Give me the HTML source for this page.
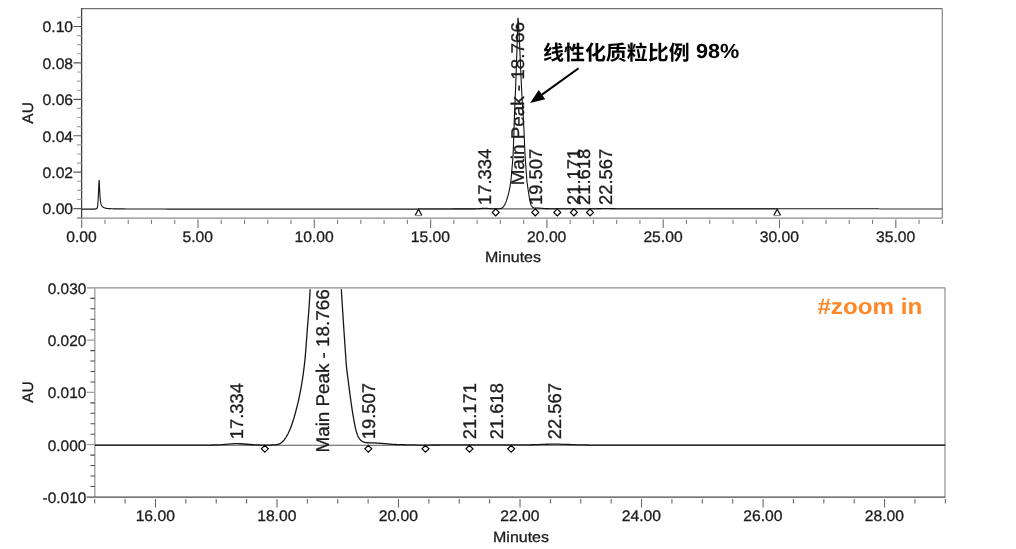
<!DOCTYPE html>
<html lang="zh"><head><meta charset="utf-8"><title>Chromatogram</title>
<style>
html,body{margin:0;padding:0;background:#fff;overflow:hidden}
body{width:1016px;height:549px;font-family:"Liberation Sans",sans-serif}
svg{display:block;will-change:transform}
text{font-family:"Liberation Sans",sans-serif;text-rendering:geometricPrecision}
</style></head><body>
<svg width="1016" height="549" viewBox="0 0 1016 549">
<rect width="1016" height="549" fill="#fff"/>
<path d="M81.6 8.6H942.4" fill="none" stroke="#707070" stroke-width="1.05"/>
<path d="M942.3 8.6V218.0" fill="none" stroke="#8c8c8c" stroke-width="1.25"/>
<path d="M77.2 218.1H942.4" fill="none" stroke="#8a8a8a" stroke-width="1.15"/>
<path d="M81.6 8.1V218.5" fill="none" stroke="#404040" stroke-width="1.3"/>
<path d="M73.4 208.6H81.6M73.4 172.17H81.6M73.4 135.74H81.6M73.4 99.31H81.6M73.4 62.88H81.6M73.4 26.45H81.6" stroke="#5a5a5a" stroke-width="1.15" fill="none"/>
<path d="M77 217.71H81.6M77 199.49H81.6M77 190.38H81.6M77 181.28H81.6M77 163.06H81.6M77 153.95H81.6M77 144.85H81.6M77 126.63H81.6M77 117.52H81.6M77 108.42H81.6M77 90.2H81.6M77 81.09H81.6M77 71.99H81.6M77 53.77H81.6M77 44.66H81.6M77 35.56H81.6M77 17.34H81.6" stroke="#a2a2a2" stroke-width="1.15" fill="none"/>
<path d="M81.7 219.6V227.9M198 219.6V227.9M314.3 219.6V227.9M430.6 219.6V227.9M546.9 219.6V227.9M663.2 219.6V227.9M779.5 219.6V227.9M895.8 219.6V227.9" stroke="#6e6e6e" stroke-width="1.1" fill="none"/>
<path d="M104.96 219.8V224.1M128.22 219.8V224.1M151.48 219.8V224.1M174.74 219.8V224.1M221.26 219.8V224.1M244.52 219.8V224.1M267.78 219.8V224.1M291.04 219.8V224.1M337.56 219.8V224.1M360.82 219.8V224.1M384.08 219.8V224.1M407.34 219.8V224.1M453.86 219.8V224.1M477.12 219.8V224.1M500.38 219.8V224.1M523.64 219.8V224.1M570.16 219.8V224.1M593.42 219.8V224.1M616.68 219.8V224.1M639.94 219.8V224.1M686.46 219.8V224.1M709.72 219.8V224.1M732.98 219.8V224.1M756.24 219.8V224.1M802.76 219.8V224.1M826.02 219.8V224.1M849.28 219.8V224.1M872.54 219.8V224.1M919.06 219.8V224.1M942.32 219.8V224.1" stroke="#7c7c7c" stroke-width="1.05" fill="none"/>
<g font-family='"Liberation Sans", sans-serif' font-size="15.3" fill="#1c1c1c" stroke="#1c1c1c" stroke-width="0.3">
<text transform="translate(73.1 214.45) scale(1.026 1)" text-anchor="end">0.00</text>
<text transform="translate(73.1 178.02) scale(1.026 1)" text-anchor="end">0.02</text>
<text transform="translate(73.1 141.59) scale(1.026 1)" text-anchor="end">0.04</text>
<text transform="translate(73.1 105.16) scale(1.026 1)" text-anchor="end">0.06</text>
<text transform="translate(73.1 68.73) scale(1.026 1)" text-anchor="end">0.08</text>
<text transform="translate(73.1 32.3) scale(1.026 1)" text-anchor="end">0.10</text>
<text transform="translate(81.5 241.6) scale(1.025 1)" text-anchor="middle">0.00</text>
<text transform="translate(197.8 241.6) scale(1.025 1)" text-anchor="middle">5.00</text>
<text transform="translate(314.1 241.6) scale(1.025 1)" text-anchor="middle">10.00</text>
<text transform="translate(430.4 241.6) scale(1.025 1)" text-anchor="middle">15.00</text>
<text transform="translate(546.7 241.6) scale(1.025 1)" text-anchor="middle">20.00</text>
<text transform="translate(663 241.6) scale(1.025 1)" text-anchor="middle">25.00</text>
<text transform="translate(779.3 241.6) scale(1.025 1)" text-anchor="middle">30.00</text>
<text transform="translate(895.6 241.6) scale(1.025 1)" text-anchor="middle">35.00</text>
<text transform="translate(513 262.35) scale(1.08 1)" text-anchor="middle" font-size="14.8">Minutes</text>
<text transform="translate(32.5 112.9) rotate(-90) scale(1.01 1)" text-anchor="middle">AU</text>
</g>
<path d="M418.5 208.9H777.17" stroke="#333" stroke-width="1" fill="none"/>
<path d="M81.7 209.1 L82.86 209.1 L84.03 209.1 L85.19 209.1 L86.35 209.1 L87.52 209.1 L88.68 209.1 L89.84 209.1 L91 209.1 L92.17 209.1 L93.33 209.1 L94.49 209.07 L95.66 208.93 L95.75 208.91 L95.84 208.89 L95.94 208.86 L96.03 208.84 L96.12 208.81 L96.21 208.78 L96.31 208.75 L96.4 208.71 L96.49 208.67 L96.59 208.62 L96.68 208.57 L96.77 208.5 L96.87 208.42 L96.96 208.32 L97.05 208.2 L97.14 208.03 L97.24 207.82 L97.33 207.55 L97.42 207.19 L97.52 206.74 L97.61 206.17 L97.7 205.46 L97.8 204.59 L97.89 203.53 L97.98 202.29 L98.08 200.84 L98.17 199.19 L98.26 197.35 L98.35 195.36 L98.45 193.25 L98.54 191.08 L98.63 188.91 L98.73 186.82 L98.82 184.89 L98.91 183.21 L99.01 181.83 L99.1 180.84 L99.19 180.27 L99.28 180.55 L99.38 183.53 L99.47 186.16 L99.56 188.48 L99.66 190.53 L99.75 192.34 L99.84 193.94 L99.94 195.35 L100.03 196.6 L100.12 197.71 L100.21 198.69 L100.31 199.56 L100.4 200.34 L100.49 201.03 L100.59 201.65 L100.68 202.2 L100.77 202.7 L100.87 203.14 L100.96 203.54 L101.05 203.9 L101.15 204.22 L101.24 204.51 L101.33 204.78 L101.42 205.02 L101.52 205.24 L101.61 205.44 L101.7 205.62 L101.8 205.79 L101.89 205.94 L101.98 206.08 L102.08 206.21 L102.17 206.34 L102.26 206.45 L102.35 206.55 L102.45 206.65 L102.54 206.74 L102.63 206.83 L102.73 206.91 L102.82 206.99 L102.91 207.06 L103.01 207.13 L103.1 207.19 L103.19 207.25 L103.29 207.31 L103.38 207.37 L103.47 207.42 L103.56 207.47 L103.66 207.52 L103.75 207.56 L103.84 207.61 L103.94 207.65 L104.03 207.69 L104.12 207.73 L104.22 207.76 L104.31 207.8 L104.4 207.83 L104.49 207.87 L104.59 207.9 L104.68 207.93 L104.77 207.96 L104.87 207.99 L104.96 208.01 L105.05 208.04 L105.15 208.07 L105.24 208.09 L105.33 208.12 L105.43 208.14 L105.52 208.16 L105.61 208.18 L105.7 208.2 L105.8 208.22 L105.89 208.24 L105.98 208.26 L106.08 208.28 L106.17 208.3 L106.26 208.32 L106.36 208.33 L106.45 208.35 L106.54 208.36 L106.63 208.38 L106.73 208.39 L106.82 208.41 L106.91 208.42 L107.01 208.43 L107.1 208.45 L107.19 208.46 L107.29 208.47 L107.38 208.48 L107.47 208.5 L107.57 208.51 L107.66 208.52 L107.75 208.53 L107.84 208.54 L107.94 208.55 L108.03 208.56 L108.12 208.57 L108.22 208.58 L108.31 208.58 L108.4 208.59 L108.5 208.6 L108.59 208.61 L108.68 208.62 L108.77 208.62 L108.87 208.63 L108.96 208.64 L109.05 208.64 L109.15 208.65 L109.24 208.66 L109.33 208.66 L109.43 208.67 L109.52 208.68 L109.61 208.68 L111.94 208.78 L114.26 208.84 L116.59 208.87 L118.92 208.9 L121.24 208.92 L123.57 208.93 L125.89 208.95 L128.22 208.96 L130.55 208.97 L132.87 208.98 L135.2 208.99 L137.52 209 L139.85 209.01 L142.18 209.01 L144.5 209.02 L146.83 209.03 L149.15 209.03 L151.48 209.04 L153.81 209.04 L156.13 209.05 L158.46 209.05 L160.78 209.06 L163.11 209.06 L165.44 209.06 L167.76 209.07 L170.09 209.07 L172.41 209.07 L174.74 209.07 L177.07 209.08 L179.39 209.08 L181.72 209.08 L184.04 209.08 L186.37 209.08 L188.7 209.08 L191.02 209.09 L193.35 209.09 L195.67 209.09 L198 209.09 L200.33 209.09 L202.65 209.09 L204.98 209.09 L207.3 209.09 L209.63 209.09 L211.96 209.09 L214.28 209.09 L216.61 209.09 L218.93 209.09 L221.26 209.09 L223.59 209.1 L225.91 209.1 L228.24 209.1 L230.56 209.1 L232.89 209.1 L235.22 209.1 L237.54 209.1 L239.87 209.1 L242.19 209.1 L244.52 209.1 L246.85 209.1 L249.17 209.1 L251.5 209.1 L253.82 209.1 L256.15 209.1 L258.48 209.1 L260.8 209.1 L263.13 209.1 L265.45 209.1 L267.78 209.1 L270.11 209.1 L272.43 209.1 L274.76 209.1 L277.08 209.1 L279.41 209.1 L281.74 209.1 L284.06 209.1 L286.39 209.1 L288.71 209.1 L291.04 209.1 L293.37 209.1 L295.69 209.1 L298.02 209.1 L300.34 209.1 L302.67 209.1 L305 209.1 L307.32 209.1 L309.65 209.1 L311.97 209.1 L314.3 209.1 L316.63 209.1 L318.95 209.1 L321.28 209.1 L323.6 209.1 L325.93 209.1 L328.26 209.1 L330.58 209.1 L332.91 209.1 L335.23 209.1 L337.56 209.1 L339.89 209.1 L342.21 209.1 L344.54 209.1 L346.86 209.1 L349.19 209.1 L351.52 209.1 L353.84 209.1 L356.17 209.1 L358.49 209.1 L360.82 209.1 L363.15 209.1 L365.47 209.1 L367.8 209.1 L370.12 209.1 L372.45 209.1 L374.78 209.1 L377.1 209.1 L379.43 209.1 L381.75 209.1 L384.08 209.1 L386.41 209.1 L388.73 209.1 L391.06 209.1 L393.38 209.1 L395.71 209.1 L398.04 209.1 L400.36 209.1 L402.69 209.1 L405.01 209.1 L407.34 209.1 L409.67 209.09 L411.99 209.08 L414.32 209.07 L416.64 209.07 L418.97 209.06 L421.3 209.05 L423.62 209.04 L425.95 209.03 L428.27 209.02 L430.6 209.01 L432.93 209.01 L435.25 209 L437.58 208.99 L439.9 208.98 L442.23 208.97 L444.56 208.96 L446.88 208.95 L449.21 208.95 L451.53 208.94 L453.86 208.93 L456.19 208.92 L458.51 208.91 L460.84 208.9 L463.16 208.89 L465.49 208.89 L467.82 208.88 L470.14 208.87 L472.47 208.86 L474.79 208.84 L477.12 208.79 L477.21 208.78 L477.31 208.78 L477.4 208.77 L477.49 208.77 L477.59 208.77 L477.68 208.76 L477.77 208.76 L477.86 208.75 L477.96 208.75 L478.05 208.75 L478.14 208.74 L478.24 208.74 L478.33 208.73 L478.42 208.73 L478.52 208.72 L478.61 208.71 L478.7 208.71 L478.79 208.7 L478.89 208.7 L478.98 208.69 L479.07 208.69 L479.17 208.68 L479.26 208.67 L479.35 208.67 L479.45 208.66 L479.54 208.65 L479.63 208.65 L479.73 208.64 L479.82 208.63 L479.91 208.62 L480 208.62 L480.1 208.61 L480.19 208.6 L480.28 208.59 L480.38 208.59 L480.47 208.58 L480.56 208.57 L480.66 208.56 L480.75 208.55 L480.84 208.55 L480.93 208.54 L481.03 208.53 L481.12 208.52 L481.21 208.51 L481.31 208.51 L481.4 208.5 L481.49 208.49 L481.59 208.48 L481.68 208.47 L481.77 208.47 L481.87 208.46 L481.96 208.45 L482.05 208.44 L482.14 208.44 L482.24 208.43 L482.33 208.42 L482.42 208.41 L482.52 208.41 L482.61 208.4 L482.7 208.39 L482.8 208.39 L482.89 208.38 L482.98 208.37 L483.07 208.37 L483.17 208.36 L483.26 208.36 L483.35 208.35 L483.45 208.35 L483.54 208.34 L483.63 208.34 L483.73 208.33 L483.82 208.33 L483.91 208.33 L484 208.32 L484.1 208.32 L484.19 208.32 L484.28 208.31 L484.38 208.31 L484.47 208.31 L484.56 208.31 L484.66 208.31 L484.75 208.31 L484.84 208.3 L484.94 208.3 L485.03 208.3 L485.12 208.3 L485.21 208.3 L485.31 208.31 L485.4 208.31 L485.49 208.31 L485.59 208.31 L485.68 208.31 L485.77 208.32 L485.87 208.32 L485.96 208.32 L486.05 208.32 L486.14 208.33 L486.24 208.33 L486.33 208.34 L486.42 208.34 L486.52 208.34 L486.61 208.35 L486.7 208.35 L486.8 208.36 L486.89 208.37 L486.98 208.37 L487.08 208.38 L487.17 208.38 L487.26 208.39 L487.35 208.4 L487.45 208.4 L487.54 208.41 L487.63 208.42 L487.73 208.42 L487.82 208.43 L487.91 208.44 L488.01 208.44 L488.1 208.45 L488.19 208.46 L488.28 208.47 L488.38 208.47 L488.47 208.48 L488.56 208.49 L488.66 208.49 L488.75 208.5 L488.84 208.51 L488.94 208.52 L489.03 208.53 L489.12 208.53 L489.22 208.54 L489.31 208.55 L489.4 208.56 L489.49 208.56 L489.59 208.57 L489.68 208.58 L489.77 208.58 L489.87 208.59 L489.96 208.6 L490.05 208.61 L490.15 208.61 L490.24 208.62 L490.33 208.62 L490.42 208.63 L490.52 208.64 L490.61 208.64 L490.7 208.65 L490.8 208.66 L490.89 208.66 L490.98 208.67 L491.08 208.67 L491.17 208.68 L491.26 208.68 L491.36 208.69 L491.45 208.69 L491.54 208.7 L491.63 208.7 L491.73 208.71 L491.82 208.71 L491.91 208.71 L492.01 208.72 L492.1 208.72 L492.19 208.73 L492.29 208.73 L492.38 208.73 L492.47 208.74 L492.56 208.74 L492.66 208.74 L492.75 208.75 L492.84 208.75 L492.94 208.75 L493.03 208.75 L493.12 208.76 L493.22 208.76 L493.31 208.76 L493.4 208.76 L493.5 208.76 L493.59 208.77 L493.68 208.77 L493.77 208.77 L493.87 208.77 L493.96 208.77 L494.05 208.78 L494.15 208.78 L494.24 208.78 L494.33 208.78 L494.43 208.78 L494.52 208.78 L494.61 208.78 L494.7 208.78 L494.8 208.79 L494.89 208.79 L494.98 208.79 L495.08 208.79 L495.17 208.79 L495.26 208.79 L495.36 208.79 L495.45 208.79 L495.54 208.79 L495.63 208.79 L495.73 208.79 L495.82 208.79 L495.91 208.79 L496.01 208.79 L496.1 208.79 L496.19 208.79 L496.29 208.8 L496.38 208.8 L496.47 208.8 L496.57 208.8 L496.66 208.8 L496.75 208.8 L496.84 208.8 L496.94 208.8 L497.03 208.8 L497.12 208.8 L497.22 208.8 L497.31 208.8 L497.4 208.8 L497.5 208.8 L497.59 208.8 L497.68 208.8 L497.77 208.8 L497.87 208.8 L497.96 208.8 L498.05 208.76 L498.15 208.76 L498.24 208.76 L498.33 208.76 L498.43 208.76 L498.52 208.76 L498.61 208.75 L498.71 208.75 L498.8 208.74 L498.89 208.74 L498.98 208.74 L499.08 208.73 L499.17 208.72 L499.26 208.72 L499.36 208.71 L499.45 208.71 L499.54 208.7 L499.64 208.69 L499.73 208.69 L499.82 208.68 L499.91 208.67 L500.01 208.66 L500.1 208.65 L500.19 208.64 L500.29 208.62 L500.38 208.61 L500.47 208.59 L500.57 208.57 L500.66 208.55 L500.75 208.53 L500.85 208.51 L500.94 208.49 L501.03 208.47 L501.12 208.44 L501.22 208.42 L501.31 208.38 L501.4 208.34 L501.5 208.3 L501.59 208.25 L501.68 208.2 L501.78 208.15 L501.87 208.09 L501.96 208.02 L502.05 207.95 L502.15 207.88 L502.24 207.81 L502.33 207.74 L502.43 207.66 L502.52 207.58 L502.61 207.5 L502.71 207.41 L502.8 207.33 L502.89 207.25 L502.99 207.15 L503.08 207.06 L503.17 206.95 L503.26 206.84 L503.36 206.73 L503.45 206.61 L503.54 206.49 L503.64 206.36 L503.73 206.22 L503.82 206.09 L503.92 205.95 L504.01 205.8 L504.1 205.66 L504.19 205.51 L504.29 205.36 L504.38 205.2 L504.47 205.05 L504.57 204.89 L504.66 204.73 L504.75 204.56 L504.85 204.39 L504.94 204.21 L505.03 204.02 L505.13 203.84 L505.22 203.64 L505.31 203.44 L505.4 203.24 L505.5 203.03 L505.59 202.82 L505.68 202.6 L505.78 202.38 L505.87 202.15 L505.96 201.92 L506.06 201.68 L506.15 201.44 L506.24 201.19 L506.33 200.93 L506.43 200.67 L506.52 200.41 L506.61 200.13 L506.71 199.86 L506.8 199.57 L506.89 199.29 L506.99 199 L507.08 198.7 L507.17 198.4 L507.26 198.1 L507.36 197.79 L507.45 197.48 L507.54 197.17 L507.64 196.85 L507.73 196.53 L507.82 196.21 L507.92 195.88 L508.01 195.55 L508.1 195.21 L508.2 194.86 L508.29 194.51 L508.38 194.16 L508.47 193.79 L508.57 193.42 L508.66 193.05 L508.75 192.66 L508.85 192.27 L508.94 191.87 L509.03 191.46 L509.13 191.05 L509.22 190.62 L509.31 190.19 L509.4 189.74 L509.5 189.28 L509.59 188.81 L509.68 188.33 L509.78 187.84 L509.87 187.33 L509.96 186.81 L510.06 186.27 L510.15 185.72 L510.24 185.15 L510.34 184.58 L510.43 183.98 L510.52 183.37 L510.61 182.74 L510.71 182.08 L510.8 181.39 L510.89 180.66 L510.99 179.9 L511.08 179.08 L511.17 178.19 L511.27 177.21 L511.36 176.17 L511.45 175.08 L511.54 173.95 L511.64 172.8 L511.73 171.64 L511.82 170.49 L511.92 169.36 L512.01 168.27 L512.1 167.21 L512.2 166.17 L512.29 165.13 L512.38 164.08 L512.48 163.01 L512.57 161.89 L512.66 160.72 L512.75 159.47 L512.85 158.14 L512.94 156.71 L513.03 155.16 L513.13 153.42 L513.22 151.37 L513.31 149.05 L513.41 146.53 L513.5 143.87 L513.59 141.12 L513.68 138.34 L513.78 135.59 L513.87 132.94 L513.96 130.37 L514.06 127.75 L514.15 125.1 L514.24 122.43 L514.34 119.77 L514.43 117.13 L514.52 114.53 L514.62 111.99 L514.71 109.53 L514.8 107.17 L514.89 104.89 L514.99 102.67 L515.08 100.49 L515.17 98.31 L515.27 96.12 L515.36 93.89 L515.45 91.59 L515.55 89.2 L515.64 86.74 L515.73 84.23 L515.82 81.67 L515.92 79.09 L516.01 76.49 L516.1 73.88 L516.2 71.28 L516.29 68.68 L516.38 66.09 L516.48 63.5 L516.57 60.9 L516.66 58.29 L516.76 55.67 L516.85 53.03 L516.94 50.37 L517.03 47.68 L517.13 44.97 L517.22 42.22 L517.31 39.4 L517.41 36.07 L517.5 32.28 L517.59 28.38 L517.69 24.69 L517.78 21.53 L517.87 19.24 L517.96 18.14 L518.06 18.24 L518.15 18.87 L518.24 19.9 L518.34 21.24 L518.43 22.78 L518.52 24.44 L518.62 26.12 L518.71 27.73 L518.8 29.2 L518.89 30.71 L518.99 32.3 L519.08 33.94 L519.17 35.65 L519.27 37.4 L519.36 39.21 L519.45 41.07 L519.55 43.01 L519.64 45.03 L519.73 47.12 L519.83 49.26 L519.92 51.45 L520.01 53.68 L520.1 55.92 L520.2 58.17 L520.29 60.42 L520.38 62.65 L520.48 64.86 L520.57 67.03 L520.66 69.15 L520.76 71.21 L520.85 73.24 L520.94 75.25 L521.03 77.24 L521.13 79.21 L521.22 81.17 L521.31 83.12 L521.41 85.07 L521.5 87.03 L521.59 88.97 L521.69 90.89 L521.78 92.74 L521.87 94.53 L521.97 96.22 L522.06 97.84 L522.15 99.41 L522.24 100.94 L522.34 102.44 L522.43 103.93 L522.52 105.43 L522.62 106.94 L522.71 108.47 L522.8 109.98 L522.9 111.46 L522.99 112.93 L523.08 114.39 L523.17 115.87 L523.27 117.36 L523.36 118.88 L523.45 120.43 L523.55 122.04 L523.64 123.71 L523.73 125.46 L523.83 127.33 L523.92 129.33 L524.01 131.44 L524.11 133.62 L524.2 135.87 L524.29 138.15 L524.38 140.44 L524.48 142.72 L524.57 144.96 L524.66 147.13 L524.76 149.23 L524.85 151.21 L524.94 153.06 L525.04 154.76 L525.13 156.3 L525.22 157.75 L525.31 159.11 L525.41 160.42 L525.5 161.7 L525.59 162.98 L525.69 164.28 L525.78 165.59 L525.87 166.88 L525.97 168.16 L526.06 169.43 L526.15 170.68 L526.25 171.93 L526.34 173.18 L526.43 174.41 L526.52 175.67 L526.62 176.97 L526.71 178.26 L526.8 179.48 L526.9 180.56 L526.99 181.48 L527.08 182.29 L527.18 183.03 L527.27 183.72 L527.36 184.37 L527.45 185 L527.55 185.63 L527.64 186.27 L527.73 186.93 L527.83 187.6 L527.92 188.27 L528.01 188.94 L528.11 189.6 L528.2 190.25 L528.29 190.9 L528.39 191.53 L528.48 192.15 L528.57 192.77 L528.66 193.38 L528.76 193.98 L528.85 194.58 L528.94 195.18 L529.04 195.76 L529.13 196.33 L529.22 196.88 L529.32 197.42 L529.41 197.93 L529.5 198.43 L529.59 198.92 L529.69 199.4 L529.78 199.88 L529.87 200.36 L529.97 200.82 L530.06 201.27 L530.15 201.71 L530.25 202.13 L530.34 202.53 L530.43 202.91 L530.52 203.27 L530.62 203.6 L530.71 203.9 L530.8 204.18 L530.9 204.46 L530.99 204.72 L531.08 204.98 L531.18 205.21 L531.27 205.44 L531.36 205.64 L531.46 205.83 L531.55 206 L531.64 206.14 L531.73 206.27 L531.83 206.39 L531.92 206.51 L532.01 206.62 L532.11 206.73 L532.2 206.83 L532.29 206.93 L532.39 207.02 L532.48 207.11 L532.57 207.19 L532.66 207.26 L532.76 207.33 L532.85 207.4 L532.94 207.46 L533.04 207.51 L533.13 207.56 L533.22 207.6 L533.32 207.64 L533.41 207.67 L533.5 207.71 L533.6 207.74 L533.69 207.77 L533.78 207.81 L533.87 207.83 L533.97 207.86 L534.06 207.88 L534.15 207.91 L534.25 207.92 L534.34 207.94 L534.43 207.95 L534.53 207.96 L534.62 207.96 L534.71 207.97 L534.8 207.97 L534.9 207.98 L534.99 207.98 L535.08 207.98 L535.18 207.99 L535.27 207.99 L535.36 207.99 L535.46 207.99 L535.55 207.99 L535.64 208 L535.74 208 L535.83 208 L535.92 208 L536.01 208 L536.11 208 L536.2 208.01 L536.29 208.01 L536.39 208.01 L536.48 208.01 L536.57 208.01 L536.67 208.01 L536.76 208.01 L536.85 208.02 L536.94 208.02 L537.04 208.02 L537.13 208.02 L537.22 208.02 L537.32 208.03 L537.41 208.03 L537.5 208.03 L537.6 208.03 L537.69 208.04 L537.78 208.04 L537.88 208.05 L537.97 208.05 L538.06 208.05 L538.15 208.06 L538.25 208.06 L538.34 208.07 L538.43 208.07 L538.53 208.08 L538.62 208.08 L538.71 208.09 L538.81 208.09 L538.9 208.1 L538.99 208.11 L539.08 208.11 L539.18 208.12 L539.27 208.12 L539.36 208.13 L539.46 208.14 L539.55 208.14 L539.64 208.15 L539.74 208.16 L539.83 208.16 L539.92 208.17 L540.02 208.18 L540.11 208.18 L540.2 208.19 L540.29 208.2 L540.39 208.2 L540.48 208.21 L540.57 208.22 L540.67 208.22 L540.76 208.23 L540.85 208.24 L540.95 208.24 L541.04 208.25 L541.13 208.26 L541.22 208.26 L541.32 208.27 L541.41 208.28 L541.5 208.28 L541.6 208.29 L541.69 208.3 L541.78 208.31 L541.88 208.31 L541.97 208.32 L542.06 208.33 L542.15 208.34 L542.25 208.34 L542.34 208.35 L542.43 208.36 L542.53 208.37 L542.62 208.38 L542.71 208.38 L542.81 208.39 L542.9 208.4 L542.99 208.41 L543.09 208.42 L543.18 208.43 L543.27 208.43 L543.36 208.44 L543.46 208.45 L543.55 208.46 L543.64 208.46 L543.74 208.47 L543.83 208.48 L543.92 208.49 L544.02 208.49 L544.11 208.5 L544.2 208.51 L544.29 208.51 L544.39 208.52 L544.48 208.53 L544.57 208.53 L544.67 208.54 L544.76 208.54 L544.85 208.55 L544.95 208.56 L545.04 208.56 L545.13 208.56 L545.23 208.57 L545.32 208.57 L545.41 208.58 L545.5 208.58 L545.6 208.58 L545.69 208.59 L545.78 208.59 L545.88 208.59 L545.97 208.59 L546.06 208.6 L546.16 208.6 L546.25 208.6 L546.34 208.61 L546.43 208.61 L546.53 208.61 L546.62 208.61 L546.71 208.62 L546.81 208.62 L546.9 208.62 L546.99 208.63 L547.09 208.63 L547.18 208.63 L547.27 208.63 L547.37 208.64 L547.46 208.64 L547.55 208.64 L547.64 208.64 L547.74 208.65 L547.83 208.65 L547.92 208.65 L548.02 208.65 L548.11 208.66 L548.2 208.66 L548.3 208.66 L548.39 208.66 L548.48 208.67 L548.57 208.67 L548.67 208.67 L548.76 208.67 L548.85 208.67 L548.95 208.68 L549.04 208.68 L549.13 208.68 L549.23 208.68 L549.32 208.68 L549.41 208.69 L549.51 208.69 L549.6 208.69 L549.69 208.69 L549.78 208.69 L549.88 208.7 L549.97 208.7 L550.06 208.7 L550.16 208.7 L550.25 208.7 L550.34 208.7 L550.44 208.71 L550.53 208.71 L550.62 208.71 L550.71 208.71 L550.81 208.71 L550.9 208.71 L550.99 208.71 L551.09 208.72 L551.18 208.72 L551.27 208.72 L551.37 208.72 L551.46 208.72 L551.55 208.72 L551.65 208.72 L551.74 208.72 L551.83 208.72 L551.92 208.73 L552.02 208.73 L552.11 208.73 L552.2 208.73 L552.3 208.73 L552.39 208.73 L552.48 208.73 L552.58 208.73 L552.67 208.73 L552.76 208.73 L552.85 208.73 L552.95 208.73 L553.04 208.73 L553.13 208.73 L553.23 208.73 L553.32 208.73 L553.41 208.73 L553.51 208.73 L553.6 208.73 L553.69 208.73 L553.78 208.73 L553.88 208.79 L553.97 208.79 L554.06 208.79 L554.16 208.79 L554.25 208.79 L554.34 208.79 L554.44 208.79 L554.53 208.79 L554.62 208.79 L554.72 208.79 L554.81 208.79 L554.9 208.79 L554.99 208.79 L555.09 208.78 L555.18 208.78 L555.27 208.78 L555.37 208.78 L555.46 208.78 L555.55 208.78 L555.65 208.78 L555.74 208.78 L555.83 208.78 L555.92 208.78 L556.02 208.78 L556.11 208.78 L556.2 208.78 L556.3 208.78 L556.39 208.78 L556.48 208.78 L556.58 208.78 L556.67 208.78 L556.76 208.78 L556.86 208.78 L556.95 208.78 L557.04 208.78 L557.13 208.78 L557.23 208.78 L557.32 208.78 L557.41 208.78 L557.51 208.78 L557.6 208.78 L557.69 208.78 L557.79 208.78 L557.88 208.78 L557.97 208.78 L558.06 208.78 L558.16 208.78 L558.25 208.78 L558.34 208.78 L558.44 208.78 L558.53 208.77 L560.86 208.77 L563.18 208.76 L565.51 208.74 L567.83 208.73 L570.16 208.72 L572.49 208.72 L574.81 208.71 L577.14 208.71 L579.46 208.71 L581.79 208.72 L584.12 208.72 L586.44 208.73 L588.77 208.74 L591.09 208.75 L593.42 208.74 L595.75 208.72 L598.07 208.67 L600.4 208.6 L602.72 208.53 L605.05 208.48 L607.38 208.47 L609.7 208.51 L612.03 208.59 L614.35 208.66 L616.68 208.73 L619.01 208.77 L621.33 208.79 L623.66 208.8 L625.98 208.8 L628.31 208.8 L630.64 208.8 L632.96 208.8 L635.29 208.8 L637.61 208.8 L639.94 208.8 L642.27 208.8 L644.59 208.8 L646.92 208.8 L649.24 208.8 L651.57 208.8 L653.9 208.8 L656.22 208.8 L658.55 208.8 L660.87 208.8 L663.2 208.8 L665.53 208.8 L667.85 208.8 L670.18 208.8 L672.5 208.8 L674.83 208.8 L677.16 208.8 L679.48 208.8 L681.81 208.8 L684.13 208.8 L686.46 208.8 L688.79 208.8 L691.11 208.8 L693.44 208.8 L695.76 208.8 L698.09 208.8 L700.42 208.8 L702.74 208.8 L705.07 208.8 L707.39 208.8 L709.72 208.8 L712.05 208.8 L714.37 208.8 L716.7 208.8 L719.02 208.8 L721.35 208.8 L723.68 208.8 L726 208.8 L728.33 208.8 L730.65 208.8 L732.98 208.8 L735.31 208.8 L737.63 208.8 L739.96 208.8 L742.28 208.8 L744.61 208.8 L746.94 208.8 L749.26 208.8 L751.59 208.8 L753.91 208.8 L756.24 208.8 L758.57 208.8 L760.89 208.8 L763.22 208.8 L765.54 208.8 L767.87 208.8 L770.2 208.8 L772.52 208.8 L774.85 208.8 L777.17 208.8 L779.5 208.8 L781.83 208.8 L784.15 208.8 L786.48 208.8 L788.8 208.8 L791.13 208.8 L793.46 208.8 L795.78 208.8 L798.11 208.8 L800.43 208.8 L802.76 208.8 L805.09 208.8 L807.41 208.8 L809.74 208.8 L812.06 208.8 L814.39 208.8 L816.72 208.8 L819.04 208.8 L821.37 208.8 L823.69 208.8 L826.02 208.8 L828.35 208.8 L830.67 208.8 L833 208.8 L835.32 208.8 L837.65 208.8 L839.98 208.8 L842.3 208.8 L844.63 208.8 L846.95 208.8 L849.28 208.8 L851.61 208.8 L853.93 208.8 L856.26 208.8 L858.58 208.8 L860.91 208.8 L863.24 208.8 L865.56 208.8 L867.89 208.8 L870.21 208.8 L872.54 208.8 L874.87 208.8 L877.19 208.8 L879.52 208.8" stroke="#141414" stroke-width="1.12" fill="none" stroke-linejoin="round"/>
<path d="M879.52 209H942.4" stroke="#2c2c2c" stroke-width="1.12" fill="none"/>
<path d="M495.73 208.95L499.18 212.4L495.73 215.85L492.28 212.4ZM535.27 208.95L538.72 212.4L535.27 215.85L531.82 212.4ZM557.25 208.95L560.7 212.4L557.25 215.85L553.8 212.4ZM573.88 208.95L577.33 212.4L573.88 215.85L570.43 212.4ZM590.05 208.95L593.5 212.4L590.05 215.85L586.6 212.4Z" fill="#fff" stroke="#000" stroke-width="1.2"/>
<path d="M415.1 215.4L418.5 209.2L421.9 215.4" fill="#fff" stroke="#111" stroke-width="1.2" stroke-linejoin="miter"/>
<path d="M415.3 215.6H421.7" stroke="#858585" stroke-width="1.05"/>
<path d="M773.77 215.4L777.17 209.2L780.57 215.4" fill="#fff" stroke="#111" stroke-width="1.2" stroke-linejoin="miter"/>
<path d="M773.97 215.6H780.37" stroke="#858585" stroke-width="1.05"/>
<g font-family='"Liberation Sans", sans-serif' font-size="18.4" fill="#1c1c1c" stroke="#1c1c1c" stroke-width="0.3">
<text transform="translate(490.69 205) rotate(-90)">17.334</text>
<text transform="translate(541.83 205) rotate(-90)">19.507</text>
<text transform="translate(579.94 205) rotate(-90)">21.171</text>
<text transform="translate(590.33 205) rotate(-90)">21.618</text>
<text transform="translate(612.41 205) rotate(-90)">22.567</text>
<text transform="translate(523.8 185.3) rotate(-90) scale(1.023 1)">Main Peak - 18.766</text>
</g>
<path d="M86.8 287.9H945.4" fill="none" stroke="#8e8e8e" stroke-width="1.2"/>
<path d="M945 287.9V496.9" fill="none" stroke="#a0a0a0" stroke-width="1.4"/>
<path d="M94.8 287.9V496.9" fill="none" stroke="#a8a8a8" stroke-width="1.5"/>
<path d="M86.6 497.1H945.4" fill="none" stroke="#4a4a4a" stroke-width="1.35"/>
<path d="M86.6 444.65H94.8M86.6 392.4H94.8M86.6 340.15H94.8" stroke="#a2a2a2" stroke-width="1.15" fill="none"/>
<path d="M90.4 486.45H94.8M90.4 476H94.8M90.4 465.55H94.8M90.4 455.1H94.8M90.4 434.2H94.8M90.4 423.75H94.8M90.4 413.3H94.8M90.4 402.85H94.8M90.4 381.95H94.8M90.4 371.5H94.8M90.4 361.05H94.8M90.4 350.6H94.8M90.4 329.7H94.8M90.4 319.25H94.8M90.4 308.8H94.8M90.4 298.35H94.8" stroke="#484848" stroke-width="1.05" fill="none"/>
<path d="M155.46 499V507.5M276.98 499V507.5M398.5 499V507.5M520.02 499V507.5M641.54 499V507.5M763.06 499V507.5M884.58 499V507.5" stroke="#646464" stroke-width="1.05" fill="none"/>
<path d="M94.7 499V503.5M125.08 499V503.5M185.84 499V503.5M216.22 499V503.5M246.6 499V503.5M307.36 499V503.5M337.74 499V503.5M368.12 499V503.5M428.88 499V503.5M459.26 499V503.5M489.64 499V503.5M550.4 499V503.5M580.78 499V503.5M611.16 499V503.5M671.92 499V503.5M702.3 499V503.5M732.68 499V503.5M793.44 499V503.5M823.82 499V503.5M854.2 499V503.5M914.96 499V503.5M945.34 499V503.5" stroke="#646464" stroke-width="1.05" fill="none"/>
<g font-family='"Liberation Sans", sans-serif' font-size="15.3" fill="#1c1c1c" stroke="#1c1c1c" stroke-width="0.3">
<text transform="translate(86.3 502.75) scale(1.008 1)" text-anchor="end">-0.010</text>
<text transform="translate(86.3 450.5) scale(1.008 1)" text-anchor="end">0.000</text>
<text transform="translate(86.3 398.25) scale(1.008 1)" text-anchor="end">0.010</text>
<text transform="translate(86.3 346) scale(1.008 1)" text-anchor="end">0.020</text>
<text transform="translate(86.3 293.75) scale(1.008 1)" text-anchor="end">0.030</text>
<text transform="translate(155.26 520.7) scale(1.025 1)" text-anchor="middle">16.00</text>
<text transform="translate(276.78 520.7) scale(1.025 1)" text-anchor="middle">18.00</text>
<text transform="translate(398.3 520.7) scale(1.025 1)" text-anchor="middle">20.00</text>
<text transform="translate(519.82 520.7) scale(1.025 1)" text-anchor="middle">22.00</text>
<text transform="translate(641.34 520.7) scale(1.025 1)" text-anchor="middle">24.00</text>
<text transform="translate(762.86 520.7) scale(1.025 1)" text-anchor="middle">26.00</text>
<text transform="translate(884.38 520.7) scale(1.025 1)" text-anchor="middle">28.00</text>
<text transform="translate(521 541.5) scale(1.08 1)" text-anchor="middle" font-size="14.8">Minutes</text>
<text transform="translate(32.5 392.1) rotate(-90) scale(1.01 1)" text-anchor="middle">AU</text>
</g>
<path d="M94.8 445.25H945.4" stroke="#555" stroke-width="1.0" fill="none"/>
<clipPath id="c2"><rect x="94.8" y="289.2" width="850.6" height="207.7"/></clipPath>
<path clip-path="url(#c2)" d="M94.7 445.1 L97.74 445.1 L100.78 445.1 L103.81 445.1 L106.85 445.1 L109.89 445.1 L112.93 445.1 L115.97 445.1 L119 445.1 L122.04 445.1 L125.08 445.1 L128.12 445.1 L131.16 445.1 L134.19 445.1 L137.23 445.1 L140.27 445.1 L143.31 445.1 L146.35 445.1 L149.38 445.1 L152.42 445.1 L155.46 445.1 L158.5 445.1 L161.54 445.1 L164.57 445.1 L167.61 445.1 L170.65 445.1 L173.69 445.1 L176.73 445.1 L179.76 445.1 L182.8 445.1 L185.84 445.1 L188.88 445.1 L191.92 445.1 L194.95 445.1 L197.99 445.1 L201.03 445.1 L204.07 445.09 L207.11 445.08 L210.14 445.06 L213.18 445.02 L216.22 444.93 L219.26 444.8 L222.3 444.6 L225.33 444.34 L228.37 444.07 L231.41 443.83 L234.45 443.67 L237.49 443.64 L240.52 443.76 L243.56 443.98 L246.6 444.25 L249.64 444.51 L252.68 444.73 L255.71 444.89 L258.75 444.99 L261.79 445.05 L264.83 445.08 L267.87 445.09 L270.9 445.1 L271.09 444.99 L271.27 444.99 L271.45 444.99 L271.63 444.99 L271.82 444.98 L272 444.98 L272.18 444.97 L272.36 444.96 L272.54 444.96 L272.73 444.95 L272.91 444.94 L273.09 444.93 L273.27 444.92 L273.46 444.91 L273.64 444.9 L273.82 444.88 L274 444.87 L274.19 444.86 L274.37 444.85 L274.55 444.83 L274.73 444.82 L274.91 444.8 L275.1 444.79 L275.28 444.78 L275.46 444.76 L275.64 444.74 L275.83 444.72 L276.01 444.7 L276.19 444.67 L276.37 444.65 L276.55 444.62 L276.74 444.59 L276.92 444.55 L277.1 444.52 L277.28 444.48 L277.47 444.45 L277.65 444.41 L277.83 444.36 L278.01 444.32 L278.2 444.27 L278.38 444.23 L278.56 444.18 L278.74 444.13 L278.92 444.07 L279.11 444.02 L279.29 443.95 L279.47 443.88 L279.65 443.79 L279.84 443.7 L280.02 443.6 L280.2 443.5 L280.38 443.38 L280.56 443.26 L280.75 443.14 L280.93 443.01 L281.11 442.87 L281.29 442.72 L281.48 442.57 L281.66 442.42 L281.84 442.26 L282.02 442.1 L282.21 441.94 L282.39 441.77 L282.57 441.59 L282.75 441.42 L282.93 441.24 L283.12 441.06 L283.3 440.88 L283.48 440.7 L283.66 440.51 L283.85 440.31 L284.03 440.1 L284.21 439.88 L284.39 439.65 L284.58 439.41 L284.76 439.16 L284.94 438.9 L285.12 438.64 L285.3 438.37 L285.49 438.09 L285.67 437.81 L285.85 437.51 L286.03 437.22 L286.22 436.91 L286.4 436.61 L286.58 436.29 L286.76 435.98 L286.94 435.66 L287.13 435.33 L287.31 435.01 L287.49 434.68 L287.67 434.34 L287.86 434.01 L288.04 433.66 L288.22 433.31 L288.4 432.94 L288.59 432.57 L288.77 432.19 L288.95 431.8 L289.13 431.4 L289.31 431 L289.5 430.58 L289.68 430.16 L289.86 429.73 L290.04 429.29 L290.23 428.85 L290.41 428.39 L290.59 427.93 L290.77 427.47 L290.95 426.99 L291.14 426.51 L291.32 426.03 L291.5 425.53 L291.68 425.03 L291.87 424.51 L292.05 423.99 L292.23 423.45 L292.41 422.91 L292.6 422.35 L292.78 421.79 L292.96 421.21 L293.14 420.63 L293.32 420.04 L293.51 419.44 L293.69 418.84 L293.87 418.23 L294.05 417.6 L294.24 416.98 L294.42 416.34 L294.6 415.7 L294.78 415.05 L294.96 414.4 L295.15 413.74 L295.33 413.07 L295.51 412.4 L295.69 411.73 L295.88 411.05 L296.06 410.36 L296.24 409.67 L296.42 408.98 L296.61 408.28 L296.79 407.56 L296.97 406.84 L297.15 406.11 L297.33 405.38 L297.52 404.63 L297.7 403.87 L297.88 403.1 L298.06 402.32 L298.25 401.53 L298.43 400.73 L298.61 399.91 L298.79 399.09 L298.98 398.25 L299.16 397.4 L299.34 396.54 L299.52 395.67 L299.7 394.78 L299.89 393.88 L300.07 392.96 L300.25 392.03 L300.43 391.08 L300.62 390.11 L300.8 389.12 L300.98 388.11 L301.16 387.08 L301.34 386.04 L301.53 384.97 L301.71 383.88 L301.89 382.76 L302.07 381.63 L302.26 380.47 L302.44 379.29 L302.62 378.09 L302.8 376.86 L302.99 375.61 L303.17 374.34 L303.35 373.05 L303.53 371.72 L303.71 370.35 L303.9 368.94 L304.08 367.48 L304.26 365.97 L304.44 364.39 L304.63 362.75 L304.81 361.04 L304.99 359.24 L305.17 357.29 L305.35 355.21 L305.54 353.02 L305.72 350.74 L305.9 348.38 L306.08 345.96 L306.27 343.5 L306.45 341.01 L306.63 338.51 L306.81 336.03 L307 333.57 L307.18 331.17 L307.36 328.83 L307.54 326.55 L307.72 324.3 L307.91 322.07 L308.09 319.83 L308.27 317.58 L308.45 315.3 L308.64 312.95 L308.82 310.54 L309 308.03 L309.18 305.42 L309.37 302.67 L309.55 299.79 L309.73 296.74 L309.91 293.5 L310.09 290.07 L310.28 286.25 L310.46 281.91 L310.64 277.12 L310.82 271.96 L311.01 266.49 L311.19 260.78 L311.37 254.91 L311.55 248.95 L311.73 242.98 L311.92 237.05 L312.1 231.25 L312.28 225.65 L312.46 220.12 L312.65 214.5 L312.83 208.81 L313.01 203.09 L313.19 197.35 L313.38 191.61 L313.56 185.91 L313.74 180.25 L313.92 174.67 L314.1 169.19 L314.29 163.83 L314.47 158.62 L314.65 153.56 L314.83 148.65 L315.02 143.84 L315.2 139.1 L315.38 134.41 L315.56 129.73 L315.74 125.04 L315.93 120.3 L316.11 115.47 L316.29 110.54 L316.47 105.47 L316.66 100.27 L316.84 94.96 L317.02 89.57 L317.2 84.11 L317.39 78.59 L317.57 73.02 L317.75 67.43 L317.93 61.82 L318.11 56.21 L318.3 50.61 L318.48 45.03 L318.66 39.46 L318.84 33.88 L319.03 28.3 L319.21 22.72 L319.39 17.11 L319.57 11.49 L319.76 5.85 L319.94 0.17 L320.12 -5.53 L320.3 -11.28 L320.48 -17.07 L320.67 -22.9 L320.85 -28.79 L321.03 -34.74 L321.21 -40.82 L321.4 -47.84 L321.58 -55.71 L321.76 -64.04 L321.94 -72.44 L322.12 -80.49 L322.31 -87.82 L322.49 -94.01 L322.67 -98.67 L322.85 -101.4 L323.04 -101.91 L323.22 -101.19 L323.4 -99.71 L323.58 -97.59 L323.77 -94.94 L323.95 -91.87 L324.13 -88.5 L324.31 -84.94 L324.49 -81.32 L324.68 -77.73 L324.86 -74.31 L325.04 -71.14 L325.22 -67.94 L325.41 -64.63 L325.59 -61.21 L325.77 -57.68 L325.95 -54.06 L326.13 -50.35 L326.32 -46.55 L326.5 -42.68 L326.68 -38.74 L326.86 -34.68 L327.05 -30.48 L327.23 -26.15 L327.41 -21.71 L327.59 -17.16 L327.78 -12.53 L327.96 -7.83 L328.14 -3.07 L328.32 1.73 L328.5 6.56 L328.69 11.4 L328.87 16.25 L329.05 21.08 L329.23 25.88 L329.42 30.64 L329.6 35.34 L329.78 39.96 L329.96 44.51 L330.15 48.95 L330.33 53.34 L330.51 57.69 L330.69 62.01 L330.87 66.29 L331.06 70.55 L331.24 74.78 L331.42 78.99 L331.6 83.18 L331.79 87.37 L331.97 91.58 L332.15 95.8 L332.33 99.99 L332.51 104.14 L332.7 108.22 L332.88 112.19 L333.06 116.05 L333.24 119.76 L333.43 123.34 L333.61 126.81 L333.79 130.2 L333.97 133.52 L334.16 136.78 L334.34 140.01 L334.52 143.22 L334.7 146.43 L334.88 149.66 L335.07 152.91 L335.25 156.21 L335.43 159.48 L335.61 162.7 L335.8 165.88 L335.98 169.04 L336.16 172.19 L336.34 175.35 L336.52 178.52 L336.71 181.72 L336.89 184.96 L337.07 188.26 L337.25 191.62 L337.44 195.07 L337.62 198.61 L337.8 202.25 L337.98 206.03 L338.17 210.02 L338.35 214.23 L338.53 218.62 L338.71 223.18 L338.89 227.87 L339.08 232.66 L339.26 237.53 L339.44 242.44 L339.62 247.37 L339.81 252.28 L339.99 257.16 L340.17 261.96 L340.35 266.67 L340.53 271.24 L340.72 275.67 L340.9 279.9 L341.08 283.92 L341.26 287.7 L341.45 291.22 L341.63 294.51 L341.81 297.64 L341.99 300.63 L342.18 303.51 L342.36 306.31 L342.54 309.07 L342.72 311.82 L342.9 314.59 L343.09 317.4 L343.27 320.21 L343.45 323 L343.63 325.77 L343.82 328.51 L344 331.25 L344.18 333.96 L344.36 336.66 L344.55 339.35 L344.73 342.02 L344.91 344.69 L345.09 347.34 L345.27 350.06 L345.46 352.85 L345.64 355.65 L345.82 358.39 L346 360.99 L346.19 363.37 L346.37 365.47 L346.55 367.33 L346.73 369.06 L346.91 370.67 L347.1 372.19 L347.28 373.64 L347.46 375.03 L347.64 376.39 L347.83 377.74 L348.01 379.09 L348.19 380.46 L348.37 381.88 L348.56 383.32 L348.74 384.77 L348.92 386.21 L349.1 387.64 L349.28 389.07 L349.47 390.48 L349.65 391.89 L349.83 393.28 L350.01 394.66 L350.2 396.01 L350.38 397.35 L350.56 398.67 L350.74 399.98 L350.92 401.29 L351.11 402.6 L351.29 403.89 L351.47 405.18 L351.65 406.45 L351.84 407.7 L352.02 408.92 L352.2 410.13 L352.38 411.31 L352.57 412.45 L352.75 413.56 L352.93 414.64 L353.11 415.69 L353.29 416.75 L353.48 417.79 L353.66 418.83 L353.84 419.86 L354.02 420.88 L354.21 421.88 L354.39 422.86 L354.57 423.82 L354.75 424.76 L354.94 425.67 L355.12 426.55 L355.3 427.4 L355.48 428.21 L355.66 428.98 L355.85 429.71 L356.03 430.4 L356.21 431.04 L356.39 431.66 L356.58 432.26 L356.76 432.84 L356.94 433.41 L357.12 433.95 L357.3 434.48 L357.49 434.98 L357.67 435.46 L357.85 435.91 L358.03 436.32 L358.22 436.71 L358.4 437.07 L358.58 437.38 L358.76 437.67 L358.95 437.93 L359.13 438.19 L359.31 438.45 L359.49 438.69 L359.67 438.93 L359.86 439.16 L360.04 439.38 L360.22 439.59 L360.4 439.8 L360.59 439.99 L360.77 440.18 L360.95 440.36 L361.13 440.53 L361.31 440.69 L361.5 440.84 L361.68 440.99 L361.86 441.12 L362.04 441.25 L362.23 441.36 L362.41 441.47 L362.59 441.56 L362.77 441.65 L362.96 441.73 L363.14 441.81 L363.32 441.89 L363.5 441.97 L363.68 442.04 L363.87 442.11 L364.05 442.18 L364.23 442.25 L364.41 442.31 L364.6 442.37 L364.78 442.42 L364.96 442.47 L365.14 442.52 L365.33 442.56 L365.51 442.6 L365.69 442.63 L365.87 442.66 L366.05 442.68 L366.24 442.69 L366.42 442.7 L366.6 442.71 L366.78 442.72 L366.97 442.73 L367.15 442.74 L367.33 442.74 L367.51 442.75 L367.69 442.76 L367.88 442.76 L368.06 442.77 L368.24 442.77 L368.42 442.78 L368.61 442.78 L368.79 442.79 L368.97 442.79 L369.15 442.8 L369.34 442.8 L369.52 442.8 L369.7 442.81 L369.88 442.81 L370.06 442.81 L370.25 442.82 L370.43 442.82 L370.61 442.82 L370.79 442.83 L370.98 442.83 L371.16 442.83 L371.34 442.83 L371.52 442.84 L371.7 442.84 L371.89 442.84 L372.07 442.85 L372.25 442.85 L372.43 442.85 L372.62 442.86 L372.8 442.86 L372.98 442.87 L373.16 442.87 L373.35 442.88 L373.53 442.88 L373.71 442.89 L373.89 442.89 L374.07 442.9 L374.26 442.91 L374.44 442.91 L374.62 442.92 L374.8 442.93 L374.99 442.94 L375.17 442.95 L375.35 442.96 L375.53 442.97 L375.72 442.98 L375.9 442.99 L376.08 443 L376.26 443.01 L376.44 443.02 L376.63 443.03 L376.81 443.04 L376.99 443.05 L377.17 443.06 L377.36 443.08 L377.54 443.09 L377.72 443.1 L377.9 443.11 L378.08 443.13 L378.27 443.14 L378.45 443.15 L378.63 443.17 L378.81 443.18 L379 443.19 L379.18 443.21 L379.36 443.22 L379.54 443.24 L379.73 443.25 L379.91 443.26 L380.09 443.28 L380.27 443.29 L380.45 443.31 L380.64 443.32 L380.82 443.34 L381 443.35 L381.18 443.37 L381.37 443.38 L381.55 443.39 L381.73 443.41 L381.91 443.42 L382.09 443.44 L382.28 443.45 L382.46 443.47 L382.64 443.48 L382.82 443.49 L383.01 443.51 L383.19 443.52 L383.37 443.53 L383.55 443.55 L383.74 443.56 L383.92 443.58 L384.1 443.59 L384.28 443.61 L384.46 443.62 L384.65 443.64 L384.83 443.65 L385.01 443.67 L385.19 443.69 L385.38 443.7 L385.56 443.72 L385.74 443.74 L385.92 443.75 L386.1 443.77 L386.29 443.79 L386.47 443.8 L386.65 443.82 L386.83 443.84 L387.02 443.86 L387.2 443.87 L387.38 443.89 L387.56 443.91 L387.75 443.93 L387.93 443.94 L388.11 443.96 L388.29 443.98 L388.47 444 L388.66 444.01 L388.84 444.03 L389.02 444.05 L389.2 444.07 L389.39 444.08 L389.57 444.1 L389.75 444.12 L389.93 444.13 L390.12 444.15 L390.3 444.17 L390.48 444.18 L390.66 444.2 L390.84 444.21 L391.03 444.23 L391.21 444.24 L391.39 444.26 L391.57 444.27 L391.76 444.29 L391.94 444.3 L392.12 444.31 L392.3 444.33 L392.48 444.34 L392.67 444.35 L392.85 444.36 L393.03 444.38 L393.21 444.39 L393.4 444.4 L393.58 444.41 L393.76 444.42 L393.94 444.43 L394.13 444.44 L394.31 444.44 L394.49 444.45 L394.67 444.46 L394.85 444.47 L395.04 444.47 L395.22 444.48 L395.4 444.49 L395.58 444.49 L395.77 444.5 L395.95 444.51 L396.13 444.51 L396.31 444.52 L396.49 444.52 L396.68 444.53 L396.86 444.54 L397.04 444.54 L397.22 444.55 L397.41 444.55 L397.59 444.56 L397.77 444.57 L397.95 444.57 L398.14 444.58 L398.32 444.58 L398.5 444.59 L398.68 444.6 L398.86 444.6 L399.05 444.61 L399.23 444.61 L399.41 444.62 L399.59 444.63 L399.78 444.63 L399.96 444.64 L400.14 444.64 L400.32 444.65 L400.51 444.65 L400.69 444.66 L400.87 444.66 L401.05 444.67 L401.23 444.67 L401.42 444.68 L401.6 444.68 L401.78 444.69 L401.96 444.7 L402.15 444.7 L402.33 444.71 L402.51 444.71 L402.69 444.72 L402.87 444.72 L403.06 444.72 L403.24 444.73 L403.42 444.73 L403.6 444.74 L403.79 444.74 L403.97 444.75 L404.15 444.75 L404.33 444.76 L404.52 444.76 L404.7 444.77 L404.88 444.77 L405.06 444.77 L405.24 444.78 L405.43 444.78 L405.61 444.79 L405.79 444.79 L405.97 444.79 L406.16 444.8 L406.34 444.8 L406.52 444.81 L406.7 444.81 L406.88 444.81 L407.07 444.82 L407.25 444.82 L407.43 444.82 L407.61 444.83 L407.8 444.83 L407.98 444.83 L408.16 444.84 L408.34 444.84 L408.53 444.84 L408.71 444.85 L408.89 444.85 L409.07 444.85 L409.25 444.86 L409.44 444.86 L409.62 444.86 L409.8 444.86 L409.98 444.87 L410.17 444.87 L410.35 444.87 L410.53 444.87 L410.71 444.88 L410.9 444.88 L411.08 444.88 L411.26 444.88 L411.44 444.88 L411.62 444.89 L411.81 444.89 L411.99 444.89 L412.17 444.89 L412.35 444.89 L412.54 444.89 L412.72 444.9 L412.9 444.9 L413.08 444.9 L413.26 444.9 L413.45 444.9 L413.63 444.9 L413.81 444.9 L413.99 444.9 L414.18 444.91 L414.36 444.91 L414.54 444.91 L414.72 444.91 L414.91 444.91 L415.09 444.91 L415.27 444.91 L415.45 444.91 L415.63 444.91 L415.82 444.91 L416 444.91 L416.18 444.91 L416.36 444.91 L416.55 444.91 L416.73 445.06 L416.91 445.06 L417.09 445.06 L417.27 445.06 L417.46 445.06 L417.64 445.06 L417.82 445.06 L418 445.06 L418.19 445.06 L418.37 445.06 L418.55 445.06 L418.73 445.06 L418.92 445.06 L419.1 445.06 L419.28 445.06 L419.46 445.06 L419.64 445.06 L419.83 445.06 L420.01 445.06 L420.19 445.06 L420.37 445.06 L420.56 445.05 L420.74 445.05 L420.92 445.05 L421.1 445.05 L421.29 445.05 L421.47 445.05 L421.65 445.05 L421.83 445.05 L422.01 445.05 L422.2 445.05 L422.38 445.05 L422.56 445.05 L422.74 445.05 L422.8 445.05 L425.84 445.04 L428.88 445.03 L431.92 445.02 L434.96 445 L437.99 444.99 L441.03 444.97 L444.07 444.96 L447.11 444.94 L450.15 444.93 L453.18 444.91 L456.22 444.9 L459.26 444.88 L462.3 444.87 L465.34 444.86 L468.37 444.85 L471.41 444.84 L474.45 444.84 L477.49 444.84 L480.53 444.84 L483.56 444.84 L486.6 444.85 L489.64 444.86 L492.68 444.87 L495.72 444.88 L498.75 444.89 L501.79 444.91 L504.83 444.92 L507.87 444.93 L510.91 444.94 L513.94 444.95 L516.98 444.94 L520.02 444.93 L523.06 444.9 L526.1 444.86 L529.13 444.8 L532.17 444.73 L535.21 444.64 L538.25 444.53 L541.29 444.43 L544.32 444.32 L547.36 444.24 L550.4 444.18 L553.44 444.15 L556.48 444.16 L559.51 444.2 L562.55 444.28 L565.59 444.38 L568.63 444.49 L571.67 444.6 L574.7 444.71 L577.74 444.81 L580.78 444.89 L583.82 444.95 L586.86 445 L589.89 445.04 L592.93 445.06 L595.97 445.08 L599.01 445.09 L602.05 445.09 L605.08 445.1 L608.12 445.1 L611.16 445.1 L614.2 445.1 L617.24 445.1 L620.27 445.1 L623.31 445.1 L626.35 445.1 L629.39 445.1 L632.43 445.1 L635.46 445.1 L638.5 445.1 L641.54 445.1 L644.58 445.1 L647.62 445.1 L650.65 445.1 L653.69 445.1 L656.73 445.1 L659.77 445.1 L662.81 445.1 L665.84 445.1 L668.88 445.1 L671.92 445.1 L674.96 445.1 L678 445.1 L681.03 445.1 L684.07 445.1 L687.11 445.1 L690.15 445.1 L693.19 445.1 L696.22 445.1 L699.26 445.1 L702.3 445.1 L705.34 445.1 L708.38 445.1 L711.41 445.1 L714.45 445.1 L717.49 445.1 L720.53 445.1 L723.57 445.1 L726.6 445.1 L729.64 445.1 L732.68 445.1 L735.72 445.1 L738.76 445.1 L741.79 445.1 L744.83 445.1 L747.87 445.1 L750.91 445.1 L753.95 445.1 L756.98 445.1 L760.02 445.1 L763.06 445.1 L766.1 445.1 L769.14 445.1 L772.17 445.1 L775.21 445.1 L778.25 445.1 L781.29 445.1 L784.33 445.1 L787.36 445.1 L790.4 445.1 L793.44 445.1 L796.48 445.1 L799.52 445.1 L802.55 445.1 L805.59 445.1 L808.63 445.1 L811.67 445.1 L814.71 445.1 L817.74 445.1 L820.78 445.1 L823.82 445.1 L826.86 445.1 L829.9 445.1 L832.93 445.1 L835.97 445.1 L839.01 445.1 L842.05 445.1 L845.09 445.1 L848.12 445.1 L851.16 445.1 L854.2 445.1 L857.24 445.1 L860.28 445.1 L863.31 445.1 L866.35 445.1 L869.39 445.1 L872.43 445.1 L875.47 445.1 L878.5 445.1 L881.54 445.1 L884.58 445.1 L887.62 445.1 L890.66 445.1 L893.69 445.1 L896.73 445.1 L899.77 445.1 L902.81 445.1 L905.85 445.1 L908.88 445.1 L911.92 445.1 L914.96 445.1 L918 445.1 L921.04 445.1 L924.07 445.1 L927.11 445.1 L930.15 445.1 L933.19 445.1 L936.23 445.1 L939.26 445.1 L942.3 445.1 L945.34 445.1" stroke="#161616" stroke-width="1.3" fill="none" stroke-linejoin="round"/>
<path d="M264.83 445.35L268.28 448.8L264.83 452.25L261.38 448.8ZM368.3 445.35L371.75 448.8L368.3 452.25L364.85 448.8ZM425.48 445.35L428.93 448.8L425.48 452.25L422.03 448.8ZM469.47 445.35L472.92 448.8L469.47 452.25L466.02 448.8ZM511.21 445.35L514.66 448.8L511.21 452.25L507.76 448.8Z" fill="#fff" stroke="#000" stroke-width="1.2"/>
<g font-family='"Liberation Sans", sans-serif' font-size="18.4" fill="#1c1c1c" stroke="#1c1c1c" stroke-width="0.3">
<text transform="translate(242.91 439.3) rotate(-90)">17.334</text>
<text transform="translate(374.95 439.3) rotate(-90)">19.507</text>
<text transform="translate(476.05 439.3) rotate(-90)">21.171</text>
<text transform="translate(503.21 439.3) rotate(-90)">21.618</text>
<text transform="translate(560.87 439.3) rotate(-90)">22.567</text>
<text transform="translate(328.72 452.5) rotate(-90) scale(1.023 1)">Main Peak - 18.766</text>
</g>
<text transform="translate(543 59.5) scale(1.022 1.0)" font-size="20.5" font-weight="bold" fill="#000" style='font-family:"Liberation Sans","Noto Sans CJK SC",sans-serif'>线性化质粒比例</text>
<text transform="translate(695.9 58.4) scale(1.055 1.0)" font-size="20.5" font-weight="bold" fill="#000" style='font-family:"Liberation Sans",sans-serif'>98%</text>
<path d="M578.6 68.2L541.96 94.62" stroke="#000" stroke-width="2" fill="none"/>
<path d="M530.2 103.1L538.69 90.08L545.24 99.16Z" fill="#000"/>
<text transform="translate(817.4 313.6) scale(1.03 0.95)" font-size="23.5" font-weight="bold" fill="#ff8624" style='font-family:"Liberation Sans",sans-serif'>#zoom in</text>
</svg>
</body></html>
